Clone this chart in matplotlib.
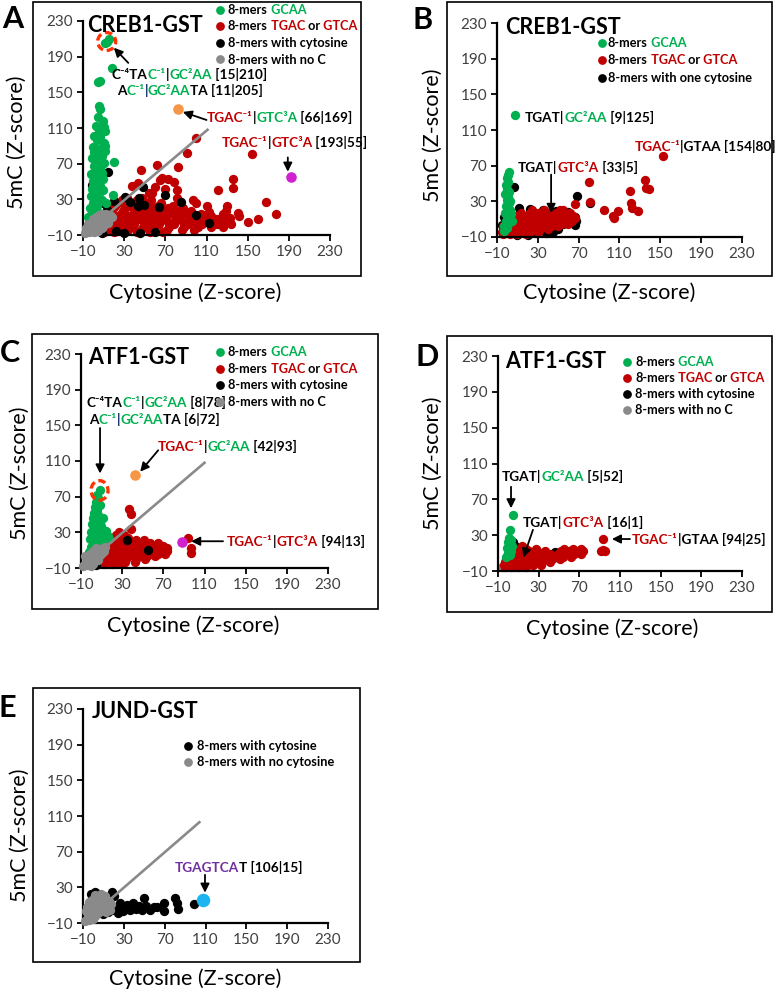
import matplotlib
matplotlib.use("Agg")
import matplotlib.pyplot as plt
from matplotlib.lines import Line2D
from matplotlib.patches import Ellipse, Rectangle
from matplotlib.transforms import Affine2D

W, H = 775, 996
FONT = ["Lato", "DejaVu Sans"]

GREEN = "#00B050"
RED = "#C00000"
BLACK = "#000000"
GRAY = "#8A8A8A"
ORANGE = "#F79646"
MAGENTA = "#D020D0"
CYAN = "#1EB4F0"
PURPLE = "#7030A0"
NAVY = "#002060"
CIRCLE = "#FF3300"

TICKS = [-10, 30, 70, 110, 150, 190, 230]

# ---------------- panel A: CREB1-GST (all 8-mers) ----------------
A_green = [
    (15, 210), (11, 205), (13, 207), (18, 177), (7, 163), (5, 162),
    (6, 135), (7, 131), (5, 122), (9, 118), (10, 111), (3, 112), (6, 108), (11, 107),
    (1, 101), (7, 100), (4, 96), (10, 93), (0, 89), (6, 87), (11, 84), (2, 81), (8, 79),
    (-1, 76), (5, 74), (10, 71), (1, 67), (7, 65), (3, 61), (-2, 58), (5, 56), (9, 53),
    (0, 51), (4, 48), (7, 45), (-1, 42), (2, 39), (6, 37), (-2, 34), (3, 31), (8, 29),
    (0, 26), (4, 23), (-3, 20), (1, 17), (6, 15), (-2, 12), (2, 9), (-1, 5), (-4, 2),
    (20, 72), (19, 35), (12, 26), (1, 83), (4, 69), (2, 55), (0, 45), (5, 28),
    (9, 40), (8, 60), (11, 90), (-5, 10),
]
A_red = [
    (10, -7), (20, -7), (30, -7), (42, -7), (55, -7), (68, -7),
    (6, -4), (14, -4), (24, -4), (34, -4), (46, -4), (58, -4), (72, -4), (86, -4), (98, -4),
    (5, -1), (11, -1), (18, -1), (26, -1), (36, -1), (48, -1), (60, -1), (74, -1), (88, -1),
    (102, -1), (114, -1), (126, -1),
    (7, 2), (15, 2), (22, 2), (30, 2), (40, 2), (52, 2), (64, 2), (78, 2), (92, 2), (106, 2),
    (120, 2), (134, 2),
    (9, 5), (17, 5), (27, 5), (37, 5), (49, 5), (61, 5), (73, 5), (87, 5), (99, 5), (112, 5), (128, 5),
    (11, 8), (21, 8), (31, 8), (43, 8), (55, 8), (67, 8), (80, 8), (94, 8), (106, 8), (120, 8),
    (13, 11), (23, 11), (35, 11), (47, 11), (59, 11), (71, 11), (84, 11), (98, 11), (114, 11),
    (15, 14), (27, 14), (39, 14), (51, 14), (63, 14), (77, 14), (91, 14), (105, 14),
    (17, 17), (29, 17), (41, 17), (55, 17), (67, 17), (81, 17), (95, 17),
    (19, 20), (31, 20), (45, 20), (59, 20), (73, 20), (87, 20),
    (21, 23), (35, 23), (49, 23), (63, 23), (77, 23),
    (24, 26), (38, 26), (52, 26), (66, 26),
    (28, 29), (42, 29), (56, 29), (33, 32), (47, 32),
    (100, 99), (91, 82), (154, 81), (62, 68), (82, 66), (46, 63), (73, 53), (65, 52),
    (136, 53), (136, 43), (121, 41), (168, 27), (178, 14), (142, 11), (130, 22), (126, 14),
    (110, 22), (100, 26), (81, 40), (54, 37), (81, 31), (43, 48), (57, 37), (78, 50),
    (67, 54), (97, 29), (84, 27), (112, 16), (129, 17), (133, 9), (119, 7), (141, 15),
    (108, 10), (150, 5), (160, 8), (38, 45), (60, 44), (70, 42),
]
A_black = [
    (-1, 46), (14, 61), (11, 25), (13, 18), (31, 33), (44, 31), (48, 44), (49, 24),
    (70, 35), (85, 27), (43, 22), (30, -8), (45, -8), (60, -7), (22, -6), (100, 12),
    (112, 3), (8, -8), (20, 28), (36, 27), (64, 21),
]
A_gray = [
    (-8, -8), (-6, -5), (-4, -7), (-3, -2), (-1, -5), (0, 0), (1, -3), (2, 3), (3, -1),
    (4, 5), (5, 1), (6, 7), (7, 3), (8, -2), (9, 5), (10, 9), (11, 2), (12, 6), (13, 11),
    (14, 4), (15, 8), (16, 12), (18, 10), (-5, 2), (-2, 4), (0, 8), (3, 10), (6, 12),
    (-7, -2), (1, -7), (5, -5), (9, 0), (12, 14), (8, 13),
]
A_line_x = [-6, 111]
A_line_y = [-6, 108]
A_orange = (82, 131)
A_magenta = (192, 55)

# ---------------- panel B: CREB1-GST (one cytosine) ----------------
B_green = [
    (8, 127), (2, 63), (1, 60), (0, 56), (1, 52), (-1, 48), (0, 44), (2, 41), (-2, 38),
    (1, 35), (0, 31), (2, 28), (-1, 25), (1, 22), (3, 20), (-2, 17), (0, 14), (2, 11),
    (-1, 8), (1, 5), (-3, 2), (0, 0), (4, 16), (3, 30), (-3, -3), (5, 8),
]
B_red = [
    (-4, -7), (3, -7), (10, -7), (18, -7),
    (-5, -4), (1, -4), (8, -4), (15, -4), (22, -4), (30, -4),
    (-3, -1), (3, -1), (10, -1), (17, -1), (24, -1), (32, -1), (40, -1),
    (-4, 2), (2, 2), (8, 2), (14, 2), (21, 2), (28, 2), (35, 2), (43, 2), (50, 2),
    (-2, 5), (4, 5), (11, 5), (18, 5), (25, 5), (32, 5), (39, 5), (46, 5), (53, 5), (60, 5),
    (0, 8), (7, 8), (14, 8), (21, 8), (28, 8), (35, 8), (42, 8), (49, 8), (56, 8), (63, 8),
    (3, 11), (10, 11), (17, 11), (24, 11), (31, 11), (38, 11), (45, 11), (52, 11), (59, 11), (66, 11),
    (8, 14), (15, 14), (22, 14), (29, 14), (36, 14), (43, 14), (50, 14), (57, 14), (64, 14),
    (14, 17), (22, 17), (30, 17), (40, 17), (48, 17), (56, 17), (62, 17),
    (24, 20), (36, 20), (52, 20), (55, 20),
    (153, 81), (80, 52), (135, 54), (136, 45), (139, 44), (120, 42), (81, 29), (66, 27),
    (95, 20), (104, 14), (109, 19), (121, 28), (122, 22), (128, 19), (105, 11),
]
B_black = [
    (7, 46), (68, 36), (81, 28), (12, 22), (22, 21), (35, 20), (48, 19), (60, 18),
    (66, 12), (67, 8), (66, 3), (50, -1), (45, -4), (38, -5), (28, -6), (20, -8),
    (10, -8), (-5, 4), (-3, 12), (55, 5),
]

# ---------------- panel C: ATF1-GST (all 8-mers) ----------------
C_green = [
    (8, 78), (6, 72), (7, 68), (5, 64), (8, 61), (4, 58), (6, 55), (3, 52), (7, 49),
    (2, 46), (5, 43), (8, 41), (1, 39), (4, 36), (7, 34), (10, 32), (14, 31), (0, 30),
    (3, 28), (6, 26), (9, 24), (12, 23), (16, 26), (-1, 22), (2, 20), (5, 18), (8, 17),
    (11, 15), (0, 14), (3, 12), (6, 10), (-2, 8), (1, 6), (4, 3), (-3, 2), (10, 20),
    (13, 19), (17, 22), (9, 37), (11, 46),
]
C_red = [
    (4, -6), (12, -6), (20, -6), (30, -6),
    (3, -3), (9, -3), (16, -3), (24, -3), (33, -3), (42, -3),
    (5, 0), (11, 0), (18, 0), (26, 0), (34, 0), (43, 0), (52, 0),
    (6, 3), (13, 3), (20, 3), (28, 3), (36, 3), (45, 3), (54, 3), (62, 3),
    (8, 6), (15, 6), (22, 6), (30, 6), (38, 6), (47, 6), (56, 6), (65, 6), (72, 6),
    (10, 9), (17, 9), (24, 9), (32, 9), (40, 9), (49, 9), (58, 9), (66, 9), (74, 9),
    (12, 12), (19, 12), (27, 12), (35, 12), (43, 12), (52, 12), (60, 12), (68, 12), (74, 12),
    (14, 15), (21, 15), (29, 15), (37, 15), (45, 15), (54, 15), (62, 15), (70, 15),
    (16, 18), (24, 18), (32, 18), (40, 18), (48, 18), (57, 18), (65, 18),
    (18, 21), (26, 21), (34, 21), (43, 21), (51, 21),
    (20, 24), (28, 24), (36, 24), (24, 27), (32, 27),
    (37, 56), (39, 50), (27, 30), (39, 34), (94, 24), (97, 12), (97, 7),
]
C_black = [(35, 21), (55, 10), (5, -7)]
C_gray = [
    (-8, -8), (-6, -6), (-4, -7), (-5, -3), (-2, -5), (-3, 0), (0, -3), (1, 2), (2, -6),
    (3, 4), (4, 0), (5, 7), (6, 3), (7, 9), (8, 5), (9, 11), (10, 7), (11, 12), (12, 9),
    (-6, 3), (-1, 6), (2, 9), (5, 12), (13, 13), (0, -8), (7, -1),
]
C_line_x = [-6, 110]
C_line_y = [-6, 108]
C_orange = (42, 94)
C_magenta = (88, 19)

# ---------------- panel D: ATF1-GST (one cytosine) ----------------
D_green = [
    (5, 53), (2, 36), (1, 27), (3, 25), (0, 22), (2, 20), (4, 18), (-1, 16), (1, 14),
    (3, 12), (0, 10), (2, 8), (-2, 6),
]
D_red = [
    (-3, -6), (3, -6), (10, -6), (18, -6),
    (-4, -3), (2, -3), (9, -3), (16, -3), (24, -3), (32, -3),
    (-3, 0), (3, 0), (10, 0), (17, 0), (25, 0), (33, 0), (41, 0),
    (-2, 3), (5, 3), (12, 3), (19, 3), (27, 3), (35, 3), (43, 3), (51, 3),
    (0, 6), (7, 6), (14, 6), (22, 6), (30, 6), (38, 6), (46, 6), (54, 6), (62, 6),
    (2, 9), (9, 9), (17, 9), (25, 9), (33, 9), (41, 9), (49, 9), (57, 9), (65, 9), (72, 9),
    (5, 12), (12, 12), (20, 12), (28, 12), (36, 12), (52, 12), (60, 12), (68, 12), (74, 12),
    (9, 15), (18, 15), (27, 15), (55, 15), (64, 15), (72, 15), (14, 18),
    (93, 26), (93, 13), (95, 12), (91, 12),
]
D_black = [(5, 22), (7, 18), (16, 1), (20, 3), (12, -2), (34, 8), (46, 11), (44, 9), (28, 4)]
D_gray = [(-6, -6), (-3, -4), (0, -2)]

# ---------------- panel E: JUND-GST ----------------
E_black = [
    (2, 25), (18, 25), (-2, 22), (5, 22), (20, 20), (23, 7), (26, 12), (29, 4), (33, 10),
    (36, 5), (39, 12), (42, 6), (48, 5), (50, 18), (52, 9), (56, 5), (60, 8), (62, 8),
    (69, 12), (69, 3), (80, 18), (82, 12), (83, 6), (99, 11), (14, 2), (18, 5), (10, 0),
    (24, 1), (45, 9), (30, 8),
]
E_gray = [
    (-8, -8), (-6, -5), (-4, -7), (-5, 0), (-3, -3), (-2, 4), (0, -5), (0, 1), (1, 8),
    (2, -2), (3, 4), (3, 12), (4, 18), (5, 1), (6, 8), (7, 14), (8, 3), (9, 10), (10, 17),
    (11, 6), (12, 12), (13, 2), (14, 9), (15, 15), (16, 5), (17, 11), (-6, 8), (-4, 14),
    (-1, 16), (2, 21), (6, 20), (8, 23), (-7, 3), (12, 20),
]
E_line_x = [-6, 104]
E_line_y = [-6, 103]
E_cyan = (108, 16)

LEG_FULL = [
    ([("8-mers", BLACK), (" GCAA", GREEN)], GREEN),
    ([("8-mers", BLACK), (" TGAC", RED), (" or", BLACK), (" GTCA", RED)], RED),
    ([("8-mers with cytosine", BLACK)], BLACK),
    ([("8-mers with no C", BLACK)], GRAY),
]
LEG_ONE = [
    ([("8-mers", BLACK), (" GCAA", GREEN)], GREEN),
    ([("8-mers", BLACK), (" TGAC", RED), (" or", BLACK), (" GTCA", RED)], RED),
    ([("8-mers with one cytosine", BLACK)], BLACK),
]
LEG_JUND = [
    ([("8-mers with cytosine", BLACK)], BLACK),
    ([("8-mers with no cytosine", BLACK)], GRAY),
]

fig = plt.figure(figsize=(W / 100, H / 100), dpi=100)
PX = Affine2D().scale(1 / W, -1 / H).translate(0, 1) + fig.transFigure


def make_axes(box, area):
    l, t, r, b = box
    fig.add_artist(Rectangle((l, t), r - l, b - t, transform=PX, fill=False,
                             edgecolor="black", lw=1.2))
    l, t, r, b = area
    ax = fig.add_axes([l / W, 1 - b / H, (r - l) / W, (b - t) / H])
    ax.patch.set_visible(False)
    ax.set_xlim(-10, 230)
    ax.set_ylim(-10, 230)
    ax.set_xticks(TICKS)
    ax.set_yticks(TICKS)
    for side in ("top", "right"):
        ax.spines[side].set_visible(False)
    for side in ("left", "bottom"):
        ax.spines[side].set_linewidth(1.6)
    ax.tick_params(direction="out", length=4, width=1.3, labelsize=11,
                   labelcolor="#404040", pad=3)
    for lab in ax.get_xticklabels() + ax.get_yticklabels():
        lab.set_family(FONT)
    return ax


def dots(ax, pts, color, s=45, z=2):
    ax.scatter([p[0] for p in pts], [p[1] for p in pts], s=s, c=color,
               linewidths=0, zorder=z, clip_on=False)


def rich(ax, x, y, pieces, size=9.8, tr=None):
    tr = ax.transData if tr is None else tr
    prev = ax.text(x, y, pieces[0][0], color=pieces[0][1], transform=tr,
                   fontsize=size, fontweight="bold", family=FONT,
                   ha="left", va="center", clip_on=False, zorder=6)
    for text, color in pieces[1:]:
        prev = ax.annotate(text, xy=(1, 0), xycoords=prev, color=color,
                           fontsize=size, fontweight="bold", family=FONT,
                           ha="left", va="bottom", annotation_clip=False, zorder=6)


def arrow(ax, start, end):
    ax.annotate("", xy=end, xytext=start, annotation_clip=False, zorder=6,
                arrowprops=dict(arrowstyle="-|>", color="black", lw=1.3,
                                mutation_scale=13, shrinkA=0, shrinkB=0))


def legend(ax, rows, mx, tx, y0, step, size=9.2, msize=6.3):
    for i, (pieces, color) in enumerate(rows):
        y = y0 + i * step
        fig.add_artist(Line2D([mx], [y], marker="o", ms=msize, color=color,
                              mec="none", transform=PX))
        rich(ax, tx, y, pieces, size=size, tr=PX)


def labels(letter, lpos, title, tpos, xpos, ypos):
    fig.text(lpos[0], lpos[1], letter, transform=PX, fontsize=22, fontweight="bold",
             family=FONT, ha="center", va="center")
    fig.text(tpos[0], tpos[1], title, transform=PX, fontsize=15.5, fontweight="bold",
             family=FONT, ha="left", va="center")
    fig.text(xpos[0], xpos[1], "Cytosine (Z-score)", transform=PX, fontsize=15.5,
             family=FONT, ha="center", va="center")
    fig.text(ypos[0], ypos[1], "5mC (Z-score)", transform=PX, fontsize=15.5,
             family=FONT, ha="center", va="center", rotation=90)


def ring(ax, center, w, h):
    ax.add_patch(Ellipse(center, w, h, fill=False, edgecolor=CIRCLE, lw=2.4,
                         linestyle=(0, (2.2, 1.2)), zorder=5, clip_on=False))


# ---- A ----
ax = make_axes((33, 2, 361, 276), (83, 21, 330, 235))
dots(ax, A_red, RED)
dots(ax, A_black, BLACK, z=2.5)
dots(ax, A_green, GREEN, z=3)
dots(ax, A_gray, GRAY, z=3.5)
ax.plot(A_line_x, A_line_y, color=GRAY, lw=1.9, zorder=4)
dots(ax, [A_orange], ORANGE, s=58, z=5)
dots(ax, [A_magenta], MAGENTA, s=58, z=5)
ring(ax, (13, 207), 17.5, 20)
rich(ax, 18, 169, [("C⁻⁴TA", BLACK), ("C⁻¹", GREEN), ("|", BLACK), ("GC²AA", GREEN), (" [15|210]", BLACK)])
rich(ax, 23, 151, [("A", BLACK), ("C⁻¹", GREEN), ("|", NAVY), ("GC²AA", GREEN), ("TA [11|205]", BLACK)])
rich(ax, 110.5, 121, [("TGAC⁻¹", RED), ("|", BLACK), ("GTC³A", GREEN), (" [66|169]", BLACK)])
rich(ax, 125, 93, [("TGAC⁻¹", RED), ("|", BLACK), ("GTC³A", RED), (" [193|55]", BLACK)])
arrow(ax, (34, 183), (20, 200))
arrow(ax, (110, 119), (87, 128))
arrow(ax, (189, 77), (189, 61))
legend(ax, LEG_FULL, 220, 228, 10, 16.5)
labels("A", (13, 19), "CREB1-GST", (87, 25), (195, 293), (17, 142))

# ---- B ----
ax = make_axes((447, 2, 772, 276), (497, 23, 742, 237))
dots(ax, B_black, BLACK, z=1.5)
dots(ax, B_red, RED)
dots(ax, B_green, GREEN, z=3)
rich(ax, 17.4, 124.5, [("TGAT|", BLACK), ("GC²AA", GREEN), (" [9|125]", BLACK)])
rich(ax, 125, 91, [("TGAC⁻¹", RED), ("|GTAA [154|80]", BLACK)])
rich(ax, 10.6, 68.5, [("TGAT|", BLACK), ("GTC³A", RED), (" [33|5]", BLACK)])
arrow(ax, (43, 60), (43, 17))
legend(ax, LEG_ONE, 602, 608, 43, 17.5)
labels("B", (423, 20), "CREB1-GST", (505, 27), (609, 293), (433, 135))

# ---- C ----
ax = make_axes((32, 334, 378, 609), (81, 354, 328, 568))
dots(ax, C_red, RED)
dots(ax, C_black, BLACK, z=2.5)
dots(ax, C_green, GREEN, z=3)
dots(ax, C_gray, GRAY, z=3.5)
ax.plot(C_line_x, C_line_y, color=GRAY, lw=1.9, zorder=4)
dots(ax, [C_orange], ORANGE, s=58, z=5)
dots(ax, [C_magenta], MAGENTA, s=58, z=5)
ring(ax, (8, 77), 16.5, 22)
rich(ax, -4.2, 175, [("C⁻⁴TA", BLACK), ("C⁻¹", GREEN), ("|", BLACK), ("GC²AA", GREEN), (" [8|78]", BLACK)])
rich(ax, -2.2, 156, [("A", BLACK), ("C⁻¹", GREEN), ("|", NAVY), ("GC²AA", GREEN), ("TA [6|72]", BLACK)])
rich(ax, 65, 125.6, [("TGAC⁻¹", RED), ("|", BLACK), ("GC²AA", GREEN), (" [42|93]", BLACK)])
rich(ax, 132, 19, [("TGAC⁻¹", RED), ("|", BLACK), ("GTC³A", RED), (" [94|13]", BLACK)])
arrow(ax, (8.5, 147), (8.5, 96))
arrow(ax, (65, 122), (47.5, 98))
arrow(ax, (128, 20), (97, 20))
legend(ax, LEG_FULL, 220, 228, 352, 16.7)
labels("C", (10, 353), "ATF1-GST", (88, 357), (193, 626), (20, 473))

# ---- D ----
ax = make_axes((447, 336, 772, 612), (498, 356, 742, 571))
dots(ax, D_gray, GRAY, z=1.2)
dots(ax, D_black, BLACK, z=1.5)
dots(ax, D_red, RED)
dots(ax, D_green, GREEN, z=3)
rich(ax, -6, 95, [("TGAT|", BLACK), ("GC²AA", GREEN), (" [5|52]", BLACK)])
rich(ax, 14.6, 43.6, [("TGAT|", BLACK), ("GTC³A", RED), (" [16|1]", BLACK)])
rich(ax, 121.8, 24.6, [("TGAC⁻¹", RED), ("|GTAA [94|25]", BLACK)])
arrow(ax, (2.8, 84), (2.8, 60))
arrow(ax, (24.4, 36), (15, 5))
arrow(ax, (119.8, 25.7), (102, 25.7))
legend(ax, LEG_FULL, 627, 635, 362, 16)
labels("D", (427, 357), "ATF1-GST", (505, 362), (612, 629), (433, 463))

# ---- E ----
ax = make_axes((33, 688, 360, 962), (83, 709, 328, 923))
dots(ax, E_black, BLACK)
dots(ax, E_gray, GRAY, z=3)
ax.plot(E_line_x, E_line_y, color=GRAY, lw=1.9, zorder=4)
dots(ax, [E_cyan], CYAN, s=95, z=5)
rich(ax, 80, 51.7, [("TGAGTCA", PURPLE), ("T [106|15]", BLACK)])
arrow(ax, (109.5, 44), (109.5, 24))
legend(ax, LEG_JUND, 188, 197, 746, 16)
labels("E", (7, 708), "JUND-GST", (92, 712), (195, 979), (20, 835))

fig.savefig("out.png", dpi=100)
